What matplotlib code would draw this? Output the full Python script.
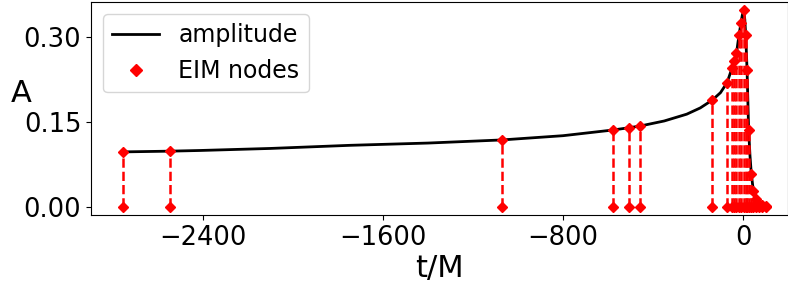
import numpy as np
import matplotlib
matplotlib.use("Agg")
import matplotlib.pyplot as plt

# amplitude curve
t_curve = [-2756, -2548, -2413, -2100, -1747, -1400, -1072, -800, -579, -508,
           -458, -350, -250, -190, -136, -100, -71, -49, -38, -29, -18, -9,
           -3, 3, 8, 12, 18, 25, 31, 37, 46, 56, 70, 85, 105]
amp_curve = [0.0964, 0.0977, 0.0989, 0.1025, 0.108, 0.112, 0.1175, 0.125,
             0.135, 0.139, 0.142, 0.151, 0.163, 0.174, 0.188, 0.201, 0.2185,
             0.244, 0.257, 0.271, 0.302, 0.324, 0.338, 0.346, 0.330, 0.3035,
             0.241, 0.135, 0.090, 0.057, 0.028, 0.013, 0.005, 0.002, 0.001]

# EIM nodes
t_nodes = [-2756, -2548, -1072, -579, -508, -458, -136, -71, -49, -38, -29,
           -18, -9, 3, 12, 18, 25, 37, 46, 56, 70, 85, 100]
amp_nodes = [0.0964, 0.0977, 0.1175, 0.135, 0.139, 0.142, 0.188, 0.2185,
             0.244, 0.257, 0.271, 0.302, 0.324, 0.346, 0.3035, 0.241, 0.135,
             0.057, 0.028, 0.013, 0.005, 0.002, 0.001]

xticks = [-2400, -1600, -800, 0]
yticks = [0.0, 0.15, 0.30]

fig = plt.figure(figsize=(7.88, 2.88), dpi=100)
ax = fig.add_axes([91 / 788, 1 - 215 / 288, 1 - 91 / 788, 213 / 288])

ax.plot(t_curve, amp_curve, color="black", lw=2, label="amplitude")
ax.vlines(t_nodes, 0, amp_nodes, colors="red", linestyles="--", lw=1.8)
ax.plot(t_nodes, amp_nodes, "rD", ms=5, label="EIM nodes")
ax.plot(t_nodes, np.zeros(len(t_nodes)), "rD", ms=5)

ax.set_xlim(-2898, 200)
ax.set_ylim(-0.015, 0.361)
ax.set_xticks(xticks)
ax.set_xticklabels(["\u22122400", "\u22121600", "\u2212800", "0"])
ax.set_yticks(yticks)
ax.set_yticklabels(["0.00", "0.15", "0.30"])
ax.tick_params(labelsize=18.5)

ax.set_xlabel("t/M", fontsize=22, labelpad=2)
ax.set_ylabel("A", fontsize=22, rotation=0, va="center", ha="center")
ax.yaxis.set_label_coords(-0.1, 0.57)

ax.legend(loc="upper left", fontsize=17, numpoints=1, markerscale=1.3)

fig.savefig("out.png", dpi=100)
